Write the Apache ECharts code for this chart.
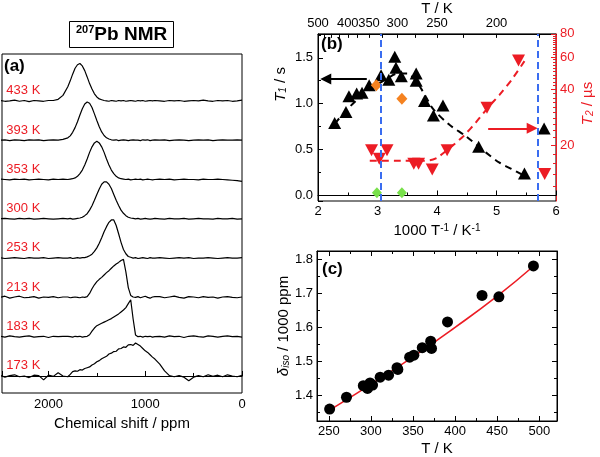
<!DOCTYPE html>
<html><head><meta charset="utf-8">
<script src="https://cdn.jsdelivr.net/npm/echarts@6/dist/echarts.min.js"></script>
<style>html,body{margin:0;padding:0;background:#fff}#main{width:600px;height:457px}</style>
</head><body><div id="main"></div>
<script>
// ---------- Panel (a): 207Pb NMR spectra ----------
const ppm = [2500,2450,2400,2350,2300,2250,2200,2150,2100,2050,2000,1950,1900,1850,
  1800,1775,1750,1725,1700,1675,1650,1625,1600,1575,1550,1525,1500,1475,1450,1425,1400,1375,1350,1325,1300,1275,1250,1225,1200,1175,1150,1125,1100,1075,1050,1025,1000,975,950,925,900,
  850,800,750,700,650,600,550,500,450,400,350,300,250,200,150,100,50,0];
const tempLabels = ['433 K','393 K','353 K','300 K','253 K','213 K','183 K','173 K'];
const s433 = [0.01,-0.01,0.00,0.02,-0.01,0.01,-0.02,0.01,0.00,-0.01,0.01,0.01,0.04,0.14,
  0.36,0.51,0.68,0.83,0.92,0.95,0.89,0.77,0.61,0.44,0.30,0.18,0.10,0.05,0.03,0.01,0.00,-0.01,0.01,0.00,-0.01,0.01,0.00,0.01,-0.01,0.00,0.01,0.00,-0.01,0.01,0.00,0.01,-0.01,0.00,0.01,0.00,0.01,
  0.00,-0.01,0.01,0.00,0.01,-0.01,0.00,0.01,0.00,0.02,0.00,-0.01,0.01,0.00,0.01,-0.01,0.00,0.02];
const s393 = [0.00,0.01,-0.01,0.01,0.00,-0.01,0.01,0.00,0.01,-0.01,0.00,0.01,0.00,0.02,
  0.06,0.11,0.20,0.32,0.47,0.64,0.80,0.92,0.97,0.94,0.83,0.67,0.50,0.34,0.21,0.12,0.06,0.03,0.01,0.00,0.01,-0.01,0.00,0.01,0.00,-0.01,0.00,0.01,0.00,0.00,-0.01,0.01,0.00,0.01,-0.01,0.00,0.01,
  0.00,0.01,-0.01,0.00,0.01,0.00,-0.01,0.00,0.01,0.00,0.01,-0.01,0.00,0.01,0.00,0.00,0.01,0.00];
const s353 = [0.01,0.00,-0.01,0.01,0.00,0.01,-0.01,0.00,0.01,0.00,-0.01,0.01,0.00,0.01,
  0.00,0.01,0.02,0.04,0.08,0.15,0.24,0.37,0.52,0.69,0.83,0.93,0.97,0.93,0.83,0.69,0.52,0.37,0.24,0.15,0.08,0.04,0.02,0.01,0.00,0.01,-0.01,0.00,0.01,0.00,0.01,-0.01,0.00,0.01,0.00,-0.01,0.00,
  0.01,0.00,0.01,-0.01,0.00,0.01,0.00,0.00,-0.01,0.01,0.00,0.00,0.01,0.00,-0.01,-0.02,-0.03,-0.05];
const s300 = [0.00,0.01,0.00,-0.01,0.01,0.00,0.01,-0.01,0.00,0.01,0.00,-0.01,0.00,0.01,
  0.00,0.01,-0.01,0.00,0.01,0.02,0.04,0.08,0.13,0.22,0.33,0.47,0.62,0.76,0.88,0.94,0.94,0.88,0.77,0.62,0.47,0.34,0.22,0.14,0.08,0.04,0.02,0.01,0.00,0.01,-0.01,0.00,0.01,0.00,-0.01,0.00,0.01,
  0.00,-0.01,0.01,0.00,0.00,0.01,-0.01,0.00,0.01,0.00,0.00,-0.01,0.01,0.00,0.00,0.01,-0.01,0.00];
const s253 = [0.01,-0.01,0.00,0.01,0.00,-0.01,0.01,0.00,0.00,0.01,-0.01,0.00,0.01,0.00,
  0.00,0.01,-0.01,0.00,0.01,0.00,0.01,0.01,0.03,0.06,0.10,0.17,0.26,0.38,0.52,0.67,0.80,0.91,0.97,0.97,0.83,0.62,0.40,0.22,0.11,0.04,0.02,0.00,0.01,-0.01,0.00,0.01,0.00,-0.01,0.01,0.00,0.00,
  0.01,0.00,-0.01,0.00,0.01,0.00,0.01,-0.01,0.00,0.00,0.01,0.00,-0.01,0.00,0.01,0.00,0.00,0.01];
const s213 = [0.00,0.03,-0.02,0.01,0.03,-0.01,0.00,0.02,-0.02,0.01,0.00,0.02,-0.01,0.01,
  0.01,-0.01,0.00,0.01,0.00,-0.01,0.01,0.00,0.02,0.10,0.22,0.32,0.40,0.46,0.51,0.57,0.63,0.68,0.74,0.80,0.85,0.89,0.94,0.97,0.65,0.25,0.05,0.01,0.00,0.02,-0.01,0.01,0.03,0.00,-0.02,0.01,0.02,
  0.02,-0.01,0.01,0.03,0.00,-0.02,0.02,0.01,-0.01,0.02,0.00,0.01,-0.02,0.01,0.02,0.00,-0.01,0.01];
const s183 = [0.01,-0.01,0.02,0.00,-0.01,0.01,0.02,-0.01,0.00,0.01,-0.02,0.01,0.00,0.01,
  0.01,0.00,-0.01,0.01,0.00,0.01,-0.01,0.00,0.01,0.05,0.14,0.22,0.28,0.31,0.34,0.37,0.40,0.43,0.46,0.50,0.54,0.58,0.63,0.68,0.74,0.84,0.94,0.45,0.04,0.00,0.01,-0.01,0.01,0.00,0.01,-0.01,0.00,
  0.01,-0.01,0.02,0.00,0.01,-0.02,0.01,0.02,0.00,-0.01,0.02,0.01,-0.01,0.01,0.02,0.00,0.01,-0.01];
const s173 = [0.02,-0.03,0.01,0.03,-0.02,0.00,-0.04,0.02,0.01,-0.10,0.02,-0.01,0.08,0.00,
  -0.02,0.04,0.11,0.13,0.12,0.16,0.15,0.19,0.21,0.23,0.28,0.31,0.36,0.39,0.44,0.47,0.50,0.56,0.58,0.62,0.63,0.69,0.70,0.74,0.73,0.79,0.80,0.78,0.84,0.80,0.76,0.70,0.64,0.60,0.54,0.48,0.43,
  0.30,0.13,0.01,-0.02,0.01,-0.03,-0.12,-0.03,0.01,-0.02,0.03,-0.01,0.02,-0.02,0.03,0.00,-0.02,0.02];

// ---------- Panel (b): relaxation times ----------
const t1X = [2.28,2.47,2.52,2.65,2.74,2.86,3.06,3.19,3.29,3.31,3.40,3.65,3.65,3.79,3.94,4.10,4.70,5.47,5.80];
const t1Y = [0.79,0.91,1.08,1.11,1.12,1.20,1.31,1.26,1.51,1.39,1.30,1.33,1.25,1.03,0.87,0.98,0.53,0.24,0.73];
const t1FitX = [2.28,2.45,2.62,2.80,3.00,3.20,3.35,3.50,3.62,3.77,3.93,4.21,4.49,4.83,5.05,5.25,5.45];
const t1FitY = [0.78,0.91,1.02,1.12,1.21,1.29,1.33,1.33,1.27,1.125,0.946,0.77,0.643,0.464,0.357,0.29,0.22];
const orangeX = [2.98,3.41];
const orangeY = [1.20,1.055];
const greenX = [2.99,3.41];
const greenY = [0.03,0.03];
const t2X = [2.90,3.03,3.16,3.61,3.69,3.92,4.17,4.84,5.37,5.81];
const t2Y = [18.8,16.9,18.8,15.9,15.9,14.8,18.8,31.9,57.4,14.0];
const t2FitX = [2.87,3.30,3.70,3.88,4.00,4.15,4.30,4.45,4.65,4.84,5.05,5.25,5.47];
const t2FitY = [16.5,16.5,16.5,16.6,17.1,18.6,20.4,22.5,26.5,31.5,37.5,45,57];
const guideX = [3.06,5.69];
const blackArrow = [[2.82,1.268],[2.13,1.268]];
const redArrow = [[4.86,24.7],[5.60,24.7]];
const topTLabels = [500,400,350,300,250,200];
const topTTicks = [500,475,450,425,400,375,350,325,300,275,250,225,200,175];
const t2Labels = [20,40,60,80];
const t2MinorTicks = [12,14,16,18,22,24,26,28,30,32,34,36,38,42,44,46,48,50,52,54,56,58,62,64,66,68,70,72,74,76,78];

// ---------- Panel (c): isotropic shift vs T ----------
const cT = [251,271,291,296,299,302,311,321,331,332,346,351,361,371,372,391,432,452,493];
const cD = [1.359,1.394,1.428,1.420,1.436,1.430,1.453,1.459,1.481,1.476,1.512,1.518,1.540,1.559,1.538,1.616,1.694,1.690,1.781];
const cFitT = [251,300,350,400,450,493];
const cFitD = [1.356,1.432,1.513,1.600,1.692,1.780];

const FONT = "'Liberation Sans', Arial, Helvetica, sans-serif";
const RED = '#ec1c24';
const BLUE = '#3a6df0';
const zip = (a, b) => a.map((v, i) => [v, b[i]]);

const chart = echarts.init(document.getElementById('main'));

const series = [];
const nSp = 8;
[s433, s393, s353, s300, s253, s213, s183, s173].forEach((s, i) => {
  const off = nSp - 1 - i;
  series.push({
    type: 'line', xAxisIndex: 0, yAxisIndex: 0, symbol: 'none', silent: true,
    lineStyle: { color: '#000', width: 1.2 },
    data: ppm.map((p, j) => [p, off + s[j]])
  });
});
series.push({
  type: 'scatter', xAxisIndex: 0, yAxisIndex: 0, symbolSize: 1, silent: true,
  itemStyle: { color: 'rgba(0,0,0,0)', opacity: 1 },
  data: tempLabels.map((t, i) => ({ value: [2440, nSp - 1 - i + 0.26], name: t })),
  label: { show: true, position: 'right', distance: 0, formatter: '{b}', color: RED, opacity: 1, fontSize: 13, fontFamily: FONT }
});

// panel b
series.push({
  type: 'line', xAxisIndex: 1, yAxisIndex: 1, symbol: 'none', smooth: 0.3, silent: true,
  lineStyle: { color: '#000', width: 2, type: [7, 5] },
  data: zip(t1FitX, t1FitY), z: 2,
  markLine: {
    silent: true, symbol: ['none', 'triangle'], symbolSize: 11, animation: false,
    label: { show: false },
    lineStyle: { color: '#000', width: 2, type: 'solid' },
    data: [[{ coord: blackArrow[0] }, { coord: blackArrow[1] }]]
  }
});
series.push({
  type: 'line', xAxisIndex: 1, yAxisIndex: 2, symbol: 'none', smooth: 0.2, silent: true,
  lineStyle: { color: RED, width: 2, type: [7, 5] },
  data: zip(t2FitX, t2FitY), z: 2,
  markLine: {
    silent: true, symbol: ['none', 'triangle'], symbolSize: 11, animation: false,
    label: { show: false },
    lineStyle: { color: RED, width: 2, type: 'solid' },
    data: [[{ coord: redArrow[0] }, { coord: redArrow[1] }]]
  }
});
series.push({
  type: 'scatter', xAxisIndex: 1, yAxisIndex: 1, symbol: 'triangle', symbolSize: [13, 12], silent: true,
  itemStyle: { color: '#000', opacity: 1 }, data: zip(t1X, t1Y), z: 3,
  markLine: {
    silent: true, symbol: 'none', animation: false, label: { show: false },
    lineStyle: { color: BLUE, width: 2, type: [7, 4] },
    data: guideX.map(v => ({ xAxis: v }))
  }
});
series.push({
  type: 'scatter', xAxisIndex: 1, yAxisIndex: 1, symbol: 'diamond', symbolSize: [11, 12], silent: true,
  itemStyle: { color: '#f58220', opacity: 1 }, data: zip(orangeX, orangeY), z: 4
});
series.push({
  type: 'scatter', xAxisIndex: 1, yAxisIndex: 1, symbol: 'diamond', symbolSize: [10, 11], silent: true,
  itemStyle: { color: '#78e04a', opacity: 1 }, data: zip(greenX, greenY), z: 4
});
series.push({
  type: 'scatter', xAxisIndex: 1, yAxisIndex: 2, symbol: 'triangle', symbolRotate: 180, symbolSize: [13, 12], silent: true,
  itemStyle: { color: RED, opacity: 1 }, data: zip(t2X, t2Y), z: 4
});

// panel c
series.push({
  type: 'line', xAxisIndex: 3, yAxisIndex: 4, symbol: 'none', smooth: true, silent: true,
  lineStyle: { color: RED, width: 1.6 }, data: zip(cFitT, cFitD), z: 2
});
series.push({
  type: 'scatter', xAxisIndex: 3, yAxisIndex: 4, symbol: 'circle', symbolSize: 11, silent: true,
  itemStyle: { color: '#000', opacity: 1 }, data: zip(cT, cD), z: 3
});

const tick = (len) => ({ show: true, inside: true, length: len, lineStyle: { color: '#000', width: 1 } });
const minor = { show: true, splitNumber: 2, length: 3, lineStyle: { color: '#000', width: 1 } };
const lbl = (m) => ({ fontSize: 13, color: '#000', fontFamily: FONT, margin: m, formatter: v => String(v) });
const blackLine = { show: true, lineStyle: { color: '#000', width: 1 } };

const option = {
  animation: false,
  textStyle: { fontFamily: FONT },
  title: [
    { text: '{s|207}{b|Pb NMR}', left: 69, top: 21, borderColor: '#000', borderWidth: 1, padding: [3, 7, 3, 7],
      textStyle: { rich: {
        s: { fontSize: 11, fontWeight: 'bold', verticalAlign: 'top', color: '#000', fontFamily: FONT },
        b: { fontSize: 19, fontWeight: 'bold', color: '#000', fontFamily: FONT, lineHeight: 22 } } } },
    { text: '(a)', left: 4, top: 58, padding: 0, textStyle: { fontSize: 17, fontWeight: 'bold', color: '#000', fontFamily: FONT } },
    { text: '(b)', left: 321, top: 36, padding: 0, textStyle: { fontSize: 17, fontWeight: 'bold', color: '#000', fontFamily: FONT } },
    { text: '(c)', left: 322, top: 261, padding: 0, textStyle: { fontSize: 17, fontWeight: 'bold', color: '#000', fontFamily: FONT } }
  ],
  grid: [
    { left: 2, top: 54, width: 240, height: 339, show: true, borderColor: '#000', borderWidth: 1, backgroundColor: 'transparent' },
    { left: 318, top: 31, width: 238, height: 170, show: true, borderColor: '#000', borderWidth: 1, backgroundColor: 'transparent' },
    { left: 317, top: 251, width: 240, height: 170, show: true, borderColor: '#000', borderWidth: 1, backgroundColor: 'transparent' }
  ],
  xAxis: [
    { gridIndex: 0, type: 'value', min: 0, max: 2480, inverse: true, interval: 1000,
      axisLine: blackLine, axisTick: tick(5), minorTick: minor, splitLine: { show: false },
      axisLabel: Object.assign(lbl(5), { showMaxLabel: false }),
      name: 'Chemical shift / ppm', nameLocation: 'middle', nameGap: 23,
      nameTextStyle: { fontSize: 15, color: '#000', fontFamily: FONT } },
    { gridIndex: 1, type: 'value', min: 2, max: 6, interval: 1,
      axisLine: blackLine, axisTick: tick(5), minorTick: minor, splitLine: { show: false },
      axisLabel: lbl(4),
      name: '{n|1000 T}{sup|-1}{n| / K}{sup|-1}', nameLocation: 'middle', nameGap: 22,
      nameTextStyle: { color: '#000', rich: {
        n: { fontSize: 15, color: '#000', fontFamily: FONT },
        sup: { fontSize: 10, color: '#000', fontFamily: FONT, verticalAlign: 'top' } } } },
    { gridIndex: 1, type: 'value', min: 2, max: 6, position: 'top',
      axisLine: blackLine,
      axisTick: Object.assign(tick(4), { customValues: topTTicks.map(t => 1000 / t) }),
      axisLabel: Object.assign(lbl(4), { customValues: topTLabels.map(t => 1000 / t), formatter: v => String(Math.round(1000 / v)) }),
      splitLine: { show: false },
      name: 'T / K', nameLocation: 'middle', nameGap: 17,
      nameTextStyle: { fontSize: 15, color: '#000', fontFamily: FONT } },
    { gridIndex: 2, type: 'value', min: 236, max: 521, splitNumber: 6, minInterval: 50, maxInterval: 50,
      axisLine: blackLine, axisTick: tick(5), minorTick: minor, splitLine: { show: false },
      axisLabel: Object.assign(lbl(4), { showMinLabel: false, showMaxLabel: false }),
      name: 'T / K', nameLocation: 'middle', nameGap: 20,
      nameTextStyle: { fontSize: 15, color: '#000', fontFamily: FONT } },
    { gridIndex: 2, type: 'value', min: 236, max: 521, splitNumber: 6, minInterval: 50, maxInterval: 50, position: 'top',
      axisLine: blackLine, axisTick: tick(5), minorTick: minor, splitLine: { show: false },
      axisLabel: { show: false } }
  ],
  yAxis: [
    { gridIndex: 0, type: 'value', min: -0.433, max: 8.193, show: false, splitLine: { show: false } },
    { gridIndex: 1, type: 'value', min: -0.06, max: 1.76, splitNumber: 4, minInterval: 0.5, maxInterval: 0.5,
      axisLine: blackLine, axisTick: tick(5), minorTick: minor, splitLine: { show: false },
      axisLabel: Object.assign(lbl(5), { showMinLabel: false, showMaxLabel: false, formatter: v => v.toFixed(1) }),
      name: '{i|T}{sub|1}{n| / s}', nameLocation: 'middle', nameGap: 30,
      nameTextStyle: { color: '#000', padding: [0, 0, 0, 66], rich: {
        i: { fontSize: 15, fontStyle: 'italic', color: '#000', fontFamily: FONT },
        sub: { fontSize: 10, fontStyle: 'italic', color: '#000', fontFamily: FONT, verticalAlign: 'bottom' },
        n: { fontSize: 15, color: '#000', fontFamily: FONT } } } },
    { gridIndex: 1, type: 'log', logBase: 10, min: 10, max: 80, position: 'right',
      axisLine: { show: true, lineStyle: { color: RED, width: 1 } },
      axisTick: { show: true, inside: true, length: 5, customValues: t2Labels, lineStyle: { color: RED } },
      axisLabel: { customValues: t2Labels, color: RED, fontSize: 13, fontFamily: FONT, margin: 4, formatter: v => String(Math.round(v)) },
      splitLine: { show: false }, minorTick: { show: false },
      name: '{i|T}{sub|2}{n| / µs}', nameLocation: 'middle', nameGap: 24,
      nameTextStyle: { color: RED, padding: [0, 0, 0, 28], rich: {
        i: { fontSize: 15, fontStyle: 'italic', color: RED, fontFamily: FONT },
        sub: { fontSize: 10, fontStyle: 'italic', color: RED, fontFamily: FONT, verticalAlign: 'bottom' },
        n: { fontSize: 15, color: RED, fontFamily: FONT } } } },
    { gridIndex: 1, type: 'log', logBase: 10, min: 10, max: 80, position: 'right',
      axisLine: { show: false },
      axisTick: { show: true, inside: true, length: 3, customValues: t2MinorTicks, lineStyle: { color: RED } },
      axisLabel: { show: false }, splitLine: { show: false } },
    { gridIndex: 2, type: 'value', min: 1.324, max: 1.825, splitNumber: 5, minInterval: 0.1, maxInterval: 0.1,
      axisLine: blackLine, axisTick: tick(5), minorTick: minor, splitLine: { show: false },
      axisLabel: Object.assign(lbl(4), { showMinLabel: false, showMaxLabel: false, formatter: v => v.toFixed(1) }),
      name: '{i|δ}{sub|iso}{n| / 1000 ppm}', nameLocation: 'middle', nameGap: 21,
      nameTextStyle: { color: '#000', padding: [0, 0, 0, 20], rich: {
        i: { fontSize: 15, fontStyle: 'italic', color: '#000', fontFamily: FONT },
        sub: { fontSize: 10, fontStyle: 'italic', color: '#000', fontFamily: FONT, verticalAlign: 'bottom' },
        n: { fontSize: 15, color: '#000', fontFamily: FONT } } } },
    { gridIndex: 2, type: 'value', min: 1.324, max: 1.825, splitNumber: 5, minInterval: 0.1, maxInterval: 0.1, position: 'right',
      axisLine: blackLine, axisTick: tick(5), minorTick: minor, splitLine: { show: false },
      axisLabel: { show: false } }
  ],
  series: series
};
chart.setOption(option);
</script></body></html>
